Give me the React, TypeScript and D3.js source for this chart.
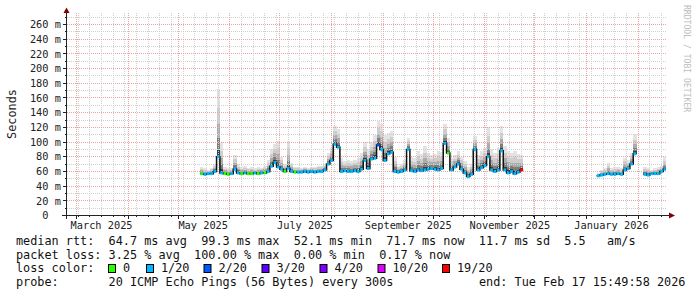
import React from 'react';
import * as d3 from 'd3';

// ---------- data ----------
const END = new Date(Date.UTC(2026, 1, 17, 15, 49, 58));
const RANGE_DAYS = 360;
const STEP_DAYS = 2;

const yMajorTicks = [0, 20, 40, 60, 80, 100, 120, 140, 160, 180, 200, 220, 240, 260];
const yMinorTicks = [10, 30, 50, 70, 90, 110, 130, 150, 170, 190, 210, 230, 250, 270];

const monthLabelDates = ['2025-03-01', '2025-05-01', '2025-07-01', '2025-09-01', '2025-11-01', '2026-01-01'];
const monthLabelTexts = ['March 2025', 'May 2025', 'July 2025', 'September 2025', 'November 2025', 'January 2026'];

// segment A: 2-day samples starting 2025-05-14 (median rtt, smoke top, loss class)
const segAStart = '2025-05-14';
const segAMedian = [
  57, 56, 57, 57, 60, 80, 58, 57, 56, 57,
  63, 58, 57, 58, 57, 57, 58, 57, 58, 58,
  60, 67, 72, 66, 63, 60, 64, 60, 59, 59,
  59, 60, 59, 60, 59, 60, 60, 62, 70, 75,
  97, 93, 60, 61, 60, 60, 61, 60, 63, 75,
  64, 77, 78, 96, 90, 75, 84, 86, 60, 59,
  60, 62, 90, 61, 60, 62, 61, 62, 63, 64,
  63, 62, 64, 98, 85, 62, 66, 70, 63, 58,
  53, 56, 90, 62, 65, 68, 80, 62, 60, 62,
  88, 62, 58, 60, 57, 59, 62,
];
const segAHigh = [
  66, 64, 62, 65, 70, 172, 100, 66, 64, 64,
  82, 70, 66, 67, 65, 66, 64, 66, 65, 68,
  75, 90, 98, 102, 80, 70, 102, 72, 66, 66,
  65, 66, 65, 66, 66, 68, 68, 70, 85, 92,
  122, 118, 78, 74, 76, 74, 76, 78, 85, 100,
  90, 100, 110, 128, 125, 110, 112, 115, 80, 68,
  70, 75, 105, 80, 78, 88, 84, 95, 85, 82,
  84, 88, 86, 125, 105, 78, 82, 88, 80, 74,
  66, 70, 108, 82, 88, 92, 120, 90, 85, 92,
  122, 95, 88, 85, 88, 84, 82,
];
const segALoss = [
  0, 1, 1, 1, 1, 1, 1, 0, 0, 1,
  1, 1, 0, 1, 0, 0, 1, 0, 1, 0,
  1, 1, 1, 1, 1, 0, 1, 1, 0, 1,
  1, 1, 1, 1, 1, 1, 1, 1, 1, 1,
  1, 1, 1, 1, 1, 1, 1, 1, 1, 1,
  1, 1, 1, 2, 1, 1, 1, 1, 1, 1,
  1, 1, 1, 1, 1, 1, 1, 1, 1, 1,
  1, 1, 1, 1, 0, 1, 1, 1, 1, 1,
  1, 1, 1, 1, 1, 1, 1, 1, 1, 1,
  1, 1, 1, 1, 1, 1, 6,
];

// segment B: 2-day samples starting 2026-01-07 (null = no data)
const segBStart = '2026-01-07';
const segBMedian = [54, 55, 56, 57, 56, 56, 57, 56, 62, 64, 70, 84, null, null, 56, 55, 57, 57, 57, 60, 63];
const segBHigh = [58, 62, 64, 72, 65, 66, 66, 64, 78, 75, 85, 111, null, null, 66, 64, 62, 64, 66, 68, 79];
const segBLoss = [1, 1, 1, 1, 1, 1, 1, 1, 1, 1, 1, 1, 1, 1, 1, 1, 1, 1, 1, 1, 1];

const lossColors = ['#26ff00', '#00b8ff', '#0059ff', '#5e00ff', '#7e00ff', '#dd00ff', '#ff0000'];
const lossLabels = ['0', '1/20', '2/20', '3/20', '4/20', '10/20', '19/20'];

const legendRow1 = 'median rtt:  64.7 ms avg  99.3 ms max  52.1 ms min  71.7 ms now  11.7 ms sd  5.5   am/s';
const legendRow2 = 'packet loss: 3.25 % avg  100.00 % max  0.00 % min  0.17 % now';
const legendRow3 = 'loss color:';
const legendRow4 = 'probe:       20 ICMP Echo Pings (56 Bytes) every 300s';
const legendEnd = 'end: Tue Feb 17 15:49:58 2026';

// ---------- layout / style ----------
const MONO = "'DejaVu Sans Mono', monospace";
const AXIS_FS = 10.3;
const LEG_FS = 11.83;
const CH = LEG_FS * 0.602;
const swatchX = [108.5, 146.5, 204, 262, 320, 378, 442.5];
const smokeShades = [
  { f: 1.0, c: '#e3e3e3' },
  { f: 0.72, c: '#cdcdcd' },
  { f: 0.48, c: '#ababab' },
  { f: 0.28, c: '#7d7d7d' },
  { f: 0.12, c: '#3e3e3e' },
];

type Sample = { t0: Date; t1: Date; m: number; h: number; l: number };

function build(start: string, med: (number | null)[], hi: (number | null)[], loss: number[]): (Sample | null)[] {
  const s0 = new Date(start + 'T00:00:00Z');
  return med.map((m, i) => {
    if (m == null || hi[i] == null) return null;
    const t0 = d3.utcDay.offset(s0, i * STEP_DAYS);
    let t1 = d3.utcDay.offset(s0, (i + 1) * STEP_DAYS);
    if (t1 > END) t1 = END;
    return { t0, t1, m, h: hi[i] as number, l: loss[i] };
  });
}

function runs(arr: (Sample | null)[]): Sample[][] {
  const out: Sample[][] = [];
  let cur: Sample[] = [];
  arr.forEach((s) => {
    if (s) cur.push(s);
    else if (cur.length) { out.push(cur); cur = []; }
  });
  if (cur.length) out.push(cur);
  return out;
}

export default function App() {
  const start = d3.utcDay.offset(END, -RANGE_DAYS);
  const x = d3.scaleUtc().domain([start, END]).range([66, 666]);
  const y = d3.scaleLinear().domain([0, 275]).range([215.5, 13.5]);
  const crisp = (v: number) => Math.round(v - 0.5) + 0.5;

  const samples = [
    ...build(segAStart, segAMedian, segAHigh, segALoss),
    null,
    ...build(segBStart, segBMedian, segBHigh, segBLoss),
  ];
  const valid = samples.filter((s): s is Sample => s != null);
  const segs = runs(samples);

  const stepLine = d3.line<[number, number]>().curve(d3.curveStepAfter);

  const months = d3.utcMonth.range(d3.utcMonth.ceil(start), END);
  const sundays = d3.utcSunday.range(d3.utcSunday.ceil(start), END).filter((d) => d.getUTCDate() !== 1);

  const plotLeft = 67;
  const plotRight = 666;
  const plotTop = 13;
  const axisY = 215.5;
  const axisX = 66.5;

  return (
    <svg
      width={697}
      height={297}
      viewBox="0 0 697 297"
      style={{ position: 'absolute', left: 0, top: 0, display: 'block', background: '#fff' }}
    >
      <rect x={0} y={0} width={697} height={297} fill="#fff" />

      {/* smoke */}
      <g shapeRendering="crispEdges">
        {valid.map((s, i) =>
          smokeShades.map((sh, k) => {
            const top = s.m + (s.h - s.m) * sh.f;
            const x0 = x(s.t0);
            const x1 = x(s.t1);
            return (
              <rect
                key={`s${i}-${k}`}
                x={x0}
                width={Math.max(0, x1 - x0)}
                y={y(top)}
                height={Math.max(0, y(s.m) - y(top))}
                fill={sh.c}
              />
            );
          })
        )}
      </g>

      {/* grid */}
      <g strokeDasharray="1,1" strokeWidth={1} fill="none">
        {yMinorTicks.map((v) => (
          <line key={`hm${v}`} x1={plotLeft} x2={plotRight} y1={crisp(y(v))} y2={crisp(y(v))} stroke="#cfcfcf" />
        ))}
        {sundays.map((d, i) => (
          <line key={`vm${i}`} x1={crisp(x(d))} x2={crisp(x(d))} y1={plotTop} y2={axisY - 1} stroke="#cfcfcf" />
        ))}
        {yMajorTicks.filter((v) => v > 0).map((v) => (
          <line key={`hM${v}`} x1={plotLeft} x2={plotRight} y1={crisp(y(v))} y2={crisp(y(v))} stroke="#eba3a3" />
        ))}
        {months.map((d, i) => (
          <line key={`vM${i}`} x1={crisp(x(d))} x2={crisp(x(d))} y1={plotTop} y2={axisY - 1} stroke="#eba3a3" />
        ))}
      </g>

      {/* median: black step line */}
      {segs.map((run, i) => {
        const pts: [number, number][] = run.map((s) => [x(s.t0), y(s.m)] as [number, number]);
        const last = run[run.length - 1];
        pts.push([x(last.t1), y(last.m)]);
        return <path key={`ml${i}`} d={stepLine(pts) || ''} fill="none" stroke="#111" strokeWidth={1.5} />;
      })}
      {/* median: loss-coloured segments */}
      {valid.map((s, i) => (
        <line
          key={`lc${i}`}
          x1={x(s.t0) + 0.3}
          x2={x(s.t1) - 0.3}
          y1={y(s.m)}
          y2={y(s.m)}
          stroke={lossColors[s.l]}
          strokeWidth={3}
        />
      ))}

      {/* axes */}
      <g stroke="#222" strokeWidth={1} shapeRendering="crispEdges">
        <line x1={62} x2={670} y1={axisY} y2={axisY} />
        <line x1={axisX} x2={axisX} y1={219} y2={12} />
        {yMajorTicks.map((v) => (
          <line key={`yt${v}`} x1={63} x2={66} y1={crisp(y(v))} y2={crisp(y(v))} />
        ))}
        {yMinorTicks.map((v) => (
          <line key={`ytm${v}`} x1={64.5} x2={66} y1={crisp(y(v))} y2={crisp(y(v))} />
        ))}
        {months.map((d, i) => (
          <line key={`xt${i}`} x1={crisp(x(d))} x2={crisp(x(d))} y1={axisY} y2={axisY + 3} />
        ))}
        {sundays.map((d, i) => (
          <line key={`xtm${i}`} x1={crisp(x(d))} x2={crisp(x(d))} y1={axisY} y2={axisY + 1.5} />
        ))}
      </g>
      <path d={`M${axisX - 3},${13} L${axisX},${7.5} L${axisX + 3},${13} Z`} fill="#7f0000" />
      <path d={`M${669},${axisY - 3} L${675},${axisY} L${669},${axisY + 3} Z`} fill="#7f0000" />

      {/* y labels */}
      <g fontFamily={MONO} fontSize={AXIS_FS} fill="#222">
        {yMajorTicks.map((v) => (
          <text key={`yl${v}`} x={48.5} y={y(v) + 3.7} textAnchor="end">
            {v}
          </text>
        ))}
        {yMajorTicks.filter((v) => v > 0).map((v) => (
          <text key={`yu${v}`} x={54.7} y={y(v) + 3.7}>
            m
          </text>
        ))}
        {monthLabelDates.map((ds, i) => {
          const d = new Date(ds + 'T00:00:00Z');
          const cx = x(d3.utcDay.offset(d, 15));
          return (
            <text key={`xl${i}`} x={cx} y={228.5} textAnchor="middle">
              {monthLabelTexts[i]}
            </text>
          );
        })}
      </g>

      {/* unit label */}
      <text
        transform="translate(15.5,114) rotate(-90)"
        fontFamily={MONO}
        fontSize={LEG_FS}
        textAnchor="middle"
        fill="#222"
      >
        Seconds
      </text>

      {/* watermark */}
      <text transform="translate(684,5) rotate(90)" fontFamily={MONO} fontSize={8.1} fill="#bdbdbd">
        RRDTOOL / TOBI OETIKER
      </text>

      {/* legend */}
      <g fontFamily={MONO} fontSize={LEG_FS} fill="#111" style={{ whiteSpace: 'pre' }}>
        <text x={16} y={245} style={{ whiteSpace: 'pre' }}>{legendRow1}</text>
        <text x={16} y={258.7} style={{ whiteSpace: 'pre' }}>{legendRow2}</text>
        <text x={16} y={272.4} style={{ whiteSpace: 'pre' }}>{legendRow3}</text>
        {lossLabels.map((lb, i) => (
          <g key={`lg${i}`}>
            <rect x={swatchX[i]} y={264.5} width={7} height={8} fill={lossColors[i]} stroke="#000" strokeWidth={1} />
            <text x={swatchX[i] + 14.5} y={272.4}>{lb}</text>
          </g>
        ))}
        <text x={16} y={286} style={{ whiteSpace: 'pre' }}>{legendRow4}</text>
        <text x={16 + 65 * CH} y={286} style={{ whiteSpace: 'pre' }}>{legendEnd}</text>
      </g>
    </svg>
  );
}
